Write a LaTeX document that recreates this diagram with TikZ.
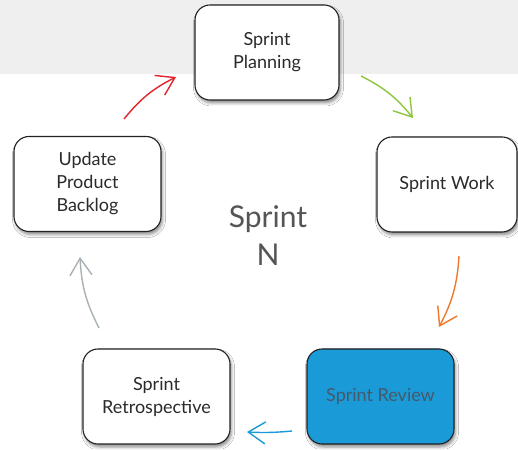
\documentclass[tikz,border=0pt]{standalone}
\usepackage{fontspec}
\setmainfont{Lato}
\usetikzlibrary{arrows.meta,shadows.blur}
\definecolor{bandgray}{HTML}{EFEFEF}
\definecolor{boxline}{HTML}{222222}
\definecolor{txt}{HTML}{2A2A2A}
\definecolor{reviewblue}{HTML}{1A9AD6}
\definecolor{reviewtxt}{HTML}{46596A}
\definecolor{centertxt}{HTML}{555555}
\definecolor{arrred}{HTML}{E2242B}
\definecolor{arrgreen}{HTML}{8CC63F}
\definecolor{arrorange}{HTML}{F0782A}
\definecolor{arrblue}{HTML}{1A9AD6}
\definecolor{arrgray}{HTML}{A9B1B4}
\tikzset{
  phase/.style={draw=boxline, line width=1.1pt, fill=white, rounded corners=15pt,
    minimum height=95pt, align=center, text=txt,
    font=\fontsize{18}{23}\selectfont,
    blur shadow={shadow xshift=1.5pt, shadow yshift=-3pt, shadow blur radius=3pt, shadow opacity=45}},
  flow/.style={line width=1.4pt, -{Straight Barb[length=17pt,width=22pt,line width=1.4pt]}},
}
\begin{document}
\begin{tikzpicture}[x=1pt,y=1pt]
  \useasboundingbox (0,0) rectangle (518,449);
  \fill[white] (0,0) rectangle (518,449);
  % light band across the top
  \fill[bandgray] (0,375) rectangle (518,449);

  % the five phases of the cycle
  \node[phase, minimum width=144pt] (plan) at (267,396.5) {Sprint\\Planning};
  \node[phase, minimum width=140pt] (work) at (447,264.5) {Sprint Work};
  \node[phase, minimum width=147pt, fill=reviewblue, text=reviewtxt] (review) at (380.5,52.5) {Sprint Review};
  \node[phase, minimum width=147pt] (retro) at (156.5,52.5) {Sprint\\Retrospective};
  \node[phase, minimum width=147pt] (backlog) at (87.5,265) {Update\\Product\\Backlog};

  % title in the middle of the cycle
  \node[text=centertxt, align=center, font=\fontsize{30}{38}\selectfont] (title) at (268,213) {Sprint\\N};

  % arrow end points
  \coordinate (r1) at (124,330); \coordinate (r2) at (176,372);
  \coordinate (g1) at (361,373); \coordinate (g2) at (413,331);
  \coordinate (o1) at (459,193); \coordinate (o2) at (439,122);
  \coordinate (b1) at (292,18);  \coordinate (b2) at (247,17);
  \coordinate (y1) at (99,121);  \coordinate (y2) at (80,192);

  \draw[flow, arrred] (r1) to[bend left=12] (r2);
  \draw[flow, arrgreen] (g1) to[bend left=12] (g2);
  \draw[flow, arrorange] (o1) to[bend left=12] (o2);
  \draw[flow, arrblue] (b1) to[bend left=4] (b2);
  \draw[flow, arrgray] (y1) to[bend left=12] (y2);
\end{tikzpicture}
\end{document}
